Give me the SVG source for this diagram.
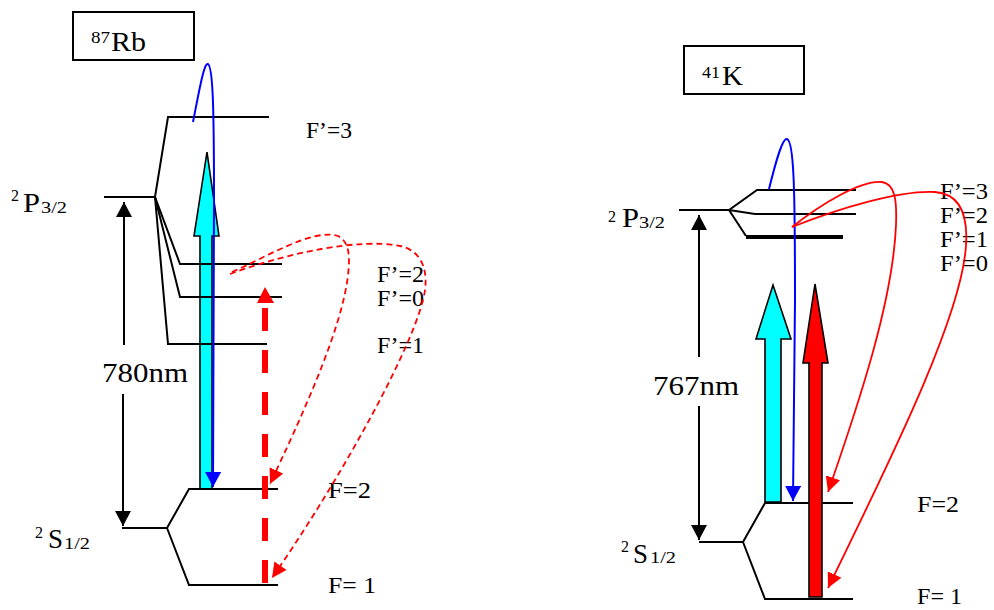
<svg xmlns="http://www.w3.org/2000/svg" width="994" height="610" viewBox="0 0 994 610">
<defs>
<style>
text{font-family:"Liberation Serif","DejaVu Serif",serif;fill:#000}
.lbl{font-size:23px}
.big{font-size:27px}
.nm{font-size:28px}
.sup{font-size:16px}
.sub{font-size:17px}
.lv{stroke:#000;stroke-width:2;fill:none}
.box{fill:#fff;stroke:#000;stroke-width:2}
.ax{stroke:#000;stroke-width:2;fill:none}
.blue{stroke:#0000ff;stroke-width:2;fill:none}
.red{stroke:#ff0000;stroke-width:1.8;fill:none}
.reddash{stroke:#ff0000;stroke-width:1.8;fill:none;stroke-dasharray:6 4}
</style>
<marker id="hBlack" markerUnits="userSpaceOnUse" markerWidth="16" markerHeight="16" refX="15" refY="8" orient="auto"><path d="M0,0 L15,8 L0,16 z" fill="#000"/></marker>
<marker id="hBlue" markerUnits="userSpaceOnUse" markerWidth="16" markerHeight="16" refX="15" refY="8" orient="auto"><path d="M0,0 L15,8 L0,16 z" fill="#0000ff"/></marker>
<marker id="hRed" markerUnits="userSpaceOnUse" markerWidth="16" markerHeight="15" refX="15" refY="7.5" orient="auto"><path d="M0,0 L15,7.5 L0,15 z" fill="#ff0000"/></marker>
</defs>

<!-- ===== 87Rb ===== -->
<g id="rb-title">
<rect class="box" x="73" y="12" width="121" height="48"/>
<text class="sup" x="91" y="43" textLength="19" lengthAdjust="spacingAndGlyphs">87</text>
<text class="big" x="111" y="51" textLength="35" lengthAdjust="spacingAndGlyphs">Rb</text>
</g>

<g id="rb-P-label">
<text class="sup" x="11" y="201">2</text>
<text class="big" x="23" y="212" textLength="17" lengthAdjust="spacingAndGlyphs">P</text>
<text class="sub" x="41" y="213" textLength="26" lengthAdjust="spacingAndGlyphs">3/2</text>
</g>
<g id="rb-S-label">
<text class="sup" x="35" y="538">2</text>
<text class="big" x="48" y="548" textLength="15" lengthAdjust="spacingAndGlyphs">S</text>
<text class="sub" x="64" y="549" textLength="26" lengthAdjust="spacingAndGlyphs">1/2</text>
</g>

<g id="rb-cyan-arrow">
<polygon points="200,489 212,489 212,236 219,236 207,152 194,236 200,236" fill="#00ffff" stroke="#000" stroke-width="1.6"/>
</g>

<g id="rb-levels">
<path class="lv" d="M104,197 L155,197 L168,117 L269,117"/>
<path class="lv" d="M155,197 L180,264 L282,264"/>
<path class="lv" d="M155,197 L180,297 L282,297"/>
<path class="lv" d="M155,197 L168,344 L267,344"/>
<path class="lv" d="M122,528 L167,528 L189,489 L278,489"/>
<path class="lv" d="M167,528 L189,585 L278,585"/>
</g>

<g id="rb-labels">
<text class="lbl" x="306" y="138" textLength="46" lengthAdjust="spacingAndGlyphs">F’=3</text>
<text class="lbl" x="377" y="282" textLength="47" lengthAdjust="spacingAndGlyphs">F’=2</text>
<text class="lbl" x="377" y="306" textLength="47" lengthAdjust="spacingAndGlyphs">F’=0</text>
<text class="lbl" x="377" y="353" textLength="47" lengthAdjust="spacingAndGlyphs">F’=1</text>
<text class="lbl" x="328" y="498" textLength="43" lengthAdjust="spacingAndGlyphs">F=2</text>
<text class="lbl" x="328" y="593" textLength="48" lengthAdjust="spacingAndGlyphs">F= 1</text>
<text class="nm" x="102" y="382" textLength="86" lengthAdjust="spacingAndGlyphs">780nm</text>
</g>

<g id="rb-connectors">
<path class="ax" d="M124,345 L124,202" marker-end="url(#hBlack)"/>
<path class="ax" d="M123,394 L123,526" marker-end="url(#hBlack)"/>
<path class="blue" d="M193,122 C199,92 204,62 208,64 C213,67 214,110 214,200 L213,487" marker-end="url(#hBlue)"/>
<path d="M265,583 L265,303" stroke="#ff0000" stroke-width="6" stroke-dasharray="23 19" fill="none"/>
<polygon points="265,287 274,303 257,303" fill="#ff0000"/>
<path class="reddash" d="M232,272 C265,258 312,228 338,236 C350,242 350,258 348,275 C342,330 300,420 270,484" marker-end="url(#hRed)"/>
<path class="reddash" d="M230,274 C290,252 360,238 400,246 C420,250 428,268 425,290 C418,340 340,480 272,578" marker-end="url(#hRed)"/>
</g>

<!-- ===== 41K ===== -->
<g id="k-title">
<rect class="box" x="684" y="46" width="120" height="48"/>
<text class="sup" x="702" y="78" textLength="18" lengthAdjust="spacingAndGlyphs">41</text>
<text class="big" x="722" y="85" textLength="21" lengthAdjust="spacingAndGlyphs">K</text>
</g>

<g id="k-P-label">
<text class="sup" x="608" y="222">2</text>
<text class="big" x="622" y="227" textLength="17" lengthAdjust="spacingAndGlyphs">P</text>
<text class="sub" x="639" y="228" textLength="26" lengthAdjust="spacingAndGlyphs">3/2</text>
</g>
<g id="k-S-label">
<text class="sup" x="621" y="552">2</text>
<text class="big" x="633" y="563" textLength="15" lengthAdjust="spacingAndGlyphs">S</text>
<text class="sub" x="650" y="563" textLength="26" lengthAdjust="spacingAndGlyphs">1/2</text>
</g>

<g id="k-levels">
<path class="lv" d="M679,210 L729,210 L757,190 L856,190"/>
<path class="lv" d="M729,210 L755,214 L856,214"/>
<path class="lv" d="M729,210 L746,236"/>
<path d="M746,237 L843,237" stroke="#000" stroke-width="4"/>
<path class="lv" d="M699,542 L743,542 L765,503 L853,503"/>
<path class="lv" d="M743,542 L765,599 L853,599"/>
</g>

<g id="k-labels">
<text class="lbl" x="940" y="199" textLength="48" lengthAdjust="spacingAndGlyphs">F’=3</text>
<text class="lbl" x="940" y="223" textLength="48" lengthAdjust="spacingAndGlyphs">F’=2</text>
<text class="lbl" x="940" y="247" textLength="48" lengthAdjust="spacingAndGlyphs">F’=1</text>
<text class="lbl" x="940" y="271" textLength="48" lengthAdjust="spacingAndGlyphs">F’=0</text>
<text class="lbl" x="917" y="512" textLength="42" lengthAdjust="spacingAndGlyphs">F=2</text>
<text class="lbl" x="917" y="604" textLength="45" lengthAdjust="spacingAndGlyphs">F= 1</text>
<text class="nm" x="653" y="395" textLength="86" lengthAdjust="spacingAndGlyphs">767nm</text>
</g>

<g id="k-cyan-arrow">
<polygon points="765,502 781,502 781,339 791,339 773,285 756,339 765,339" fill="#00ffff" stroke="#000" stroke-width="1.6"/>
</g>
<g id="k-red-arrow">
<polygon points="809,597 822,597 822,363 828,363 815,284 803,363 809,363" fill="#ff0000" stroke="#000" stroke-width="1.6"/>
</g>

<g id="k-connectors">
<path class="ax" d="M699,357 L699,215" marker-end="url(#hBlack)"/>
<path class="ax" d="M699,406 L699,540" marker-end="url(#hBlack)"/>
<path class="blue" d="M769,189 C775,165 782,138 787,139 C794,141 795,190 795,300 L793,501" marker-end="url(#hBlue)"/>
<path class="red" d="M792,227 C820,205 860,180 882,182 C895,184 897,200 896,225 C893,300 860,400 828,492" marker-end="url(#hRed)"/>
<path class="red" d="M792,227 C840,208 900,190 935,192 C960,194 968,215 966,245 C962,320 880,480 828,588" marker-end="url(#hRed)"/>
</g>
</svg>
